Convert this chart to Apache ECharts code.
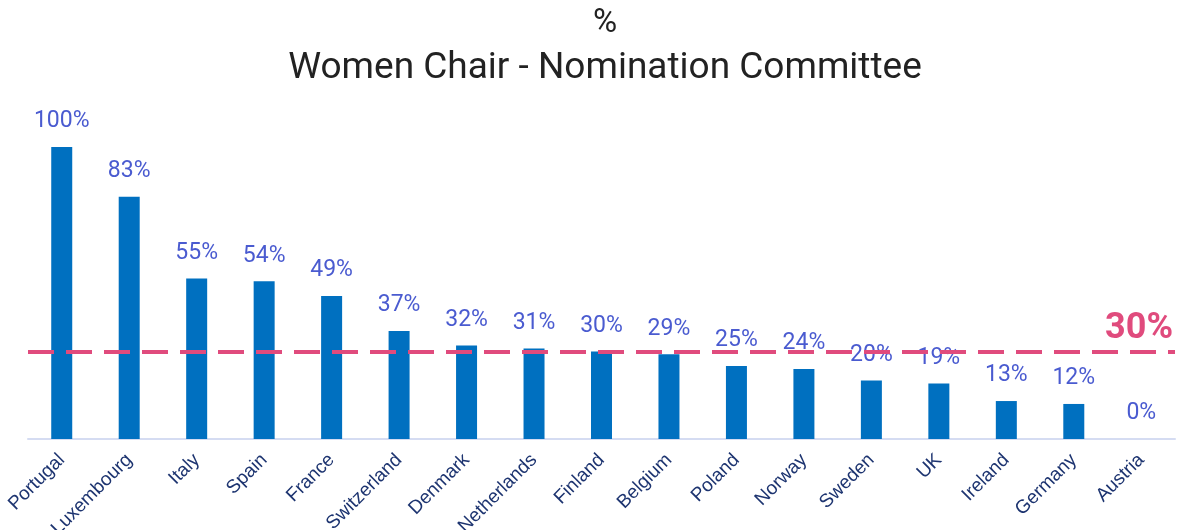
<!DOCTYPE html>
<html>
<head>
<meta charset="utf-8">
<script src="https://cdn.jsdelivr.net/npm/echarts@6/dist/echarts.min.js"></script>
<style>
  html, body { margin: 0; padding: 0; background: #fff; }
  #chart { width: 1178px; height: 530px; }
</style>
</head>
<body>
<div id="chart"></div>
<script>
const countries = ['Portugal', 'Luxembourg', 'Italy', 'Spain', 'France', 'Switzerland', 'Denmark',
  'Netherlands', 'Finland', 'Belgium', 'Poland', 'Norway', 'Sweden', 'UK', 'Ireland', 'Germany', 'Austria']
const womenChair = [100, 83, 55, 54, 49, 37, 32, 31, 30, 29, 25, 24, 20, 19, 13, 12, 0]
const target = 30

const chart = echarts.init(document.getElementById('chart'))

const titleStyle = {
  fontFamily: 'Roboto',
  fontWeight: 'normal',
  color: '#222'
}

chart.setOption({
  animation: false,
  title: [
    {
      text: '%',
      left: 600,
      top: 2,
      textAlign: 'center',
      textStyle: { ...titleStyle, fontSize: 33 }
    },
    {
      text: 'Women Chair - Nomination Committee',
      left: 600,
      top: 45,
      textAlign: 'center',
      textStyle: { ...titleStyle, fontSize: 37 }
    }
  ],
  grid: {
    left: 28,
    right: 3,
    top: 147,
    bottom: 91,
    outerBoundsMode: 'none'
  },
  xAxis: {
    type: 'category',
    data: countries,
    axisLine: { lineStyle: { color: '#d5dcf2', width: 2 } },
    axisTick: { show: false },
    axisLabel: {
      rotate: 45,
      interval: 0,
      margin: 18,
      fontFamily: 'Liberation Sans',
      fontSize: 19,
      color: '#1d3470'
    }
  },
  yAxis: {
    type: 'value',
    min: 0,
    max: 100,
    show: false,
    splitLine: { show: false }
  },
  series: [{
    type: 'bar',
    data: womenChair,
    barWidth: 21,
    itemStyle: { color: '#0070c0' },
    label: {
      show: true,
      position: 'top',
      distance: 14,
      formatter: '{c}%',
      fontFamily: 'Roboto',
      fontSize: 23,
      color: '#4a5bd0'
    },
    markLine: {
      silent: true,
      symbol: 'none',
      data: [{ yAxis: target }],
      lineStyle: {
        color: '#e04b7d',
        width: 4,
        type: [26, 12]
      },
      label: {
        position: 'insideEndTop',
        formatter: target + '%',
        fontFamily: 'Roboto',
        fontWeight: 'bold',
        fontSize: 36,
        color: '#e04b7d',
        distance: [2, 4]
      }
    }
  }]
})
</script>
</body>
</html>
